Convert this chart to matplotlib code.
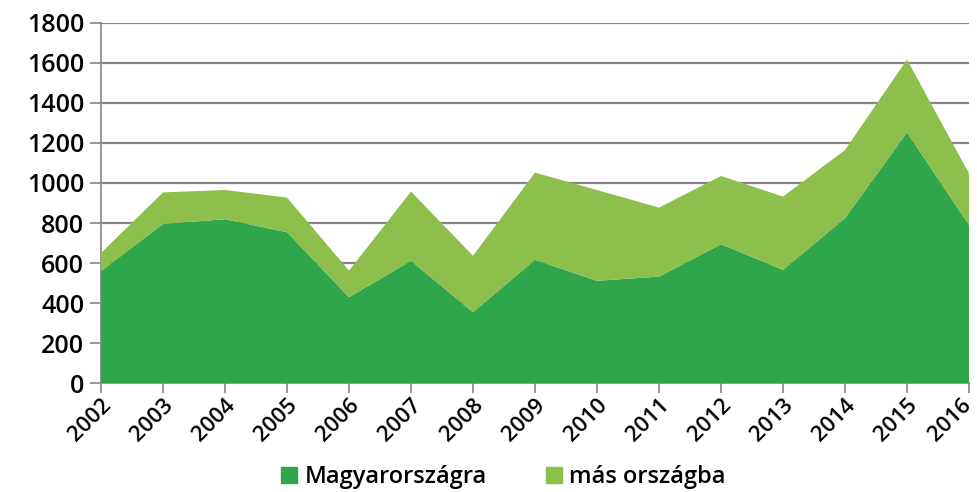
import matplotlib
matplotlib.use('Agg')

import matplotlib.pyplot as plt
import matplotlib.transforms as mtransforms
from matplotlib.patches import Patch

years = list(range(2002, 2017))
magyar = [560, 795, 819, 754, 429, 611, 354, 616, 511, 532, 694, 566, 824, 1253, 790]
total = [650, 953, 965, 927, 562, 957, 636, 1052, 965, 877, 1035, 932, 1165, 1617, 1048]
mas = [t - m for t, m in zip(total, magyar)]

labels = ["Magyarországra", "más országba"]
colors = ["#30a64c", "#8cbf4b"]

plt.rcParams['font.family'] = ['Open Sans', 'DejaVu Sans']

fig = plt.figure(figsize=(9.77, 4.92), dpi=100)
ax = fig.add_axes([0.1034, 0.2215, 0.8884, 0.7318])

ax.stackplot(years, magyar, mas, colors=colors, linewidth=0, zorder=3)

ax.set_xlim(2002, 2016)
ax.set_ylim(0, 1800)
ax.set_yticks(range(0, 1801, 200))
ax.set_xticks(years)
ax.set_xticklabels([])
for lab in ax.get_yticklabels():
    lab.set_fontsize(18)
    lab.set_fontweight('semibold')

# year labels drawn as text so the last one can stay inside the figure
base = ax.get_xaxis_transform()
for i, y in enumerate(years):
    dx = -8 if i == len(years) - 1 else 0
    off = mtransforms.ScaledTranslation(dx / 100, -12 / 100, fig.dpi_scale_trans)
    ax.text(y, 0, str(y), transform=base + off, rotation=45, ha='right',
            va='top', rotation_mode='anchor', fontsize=16,
            fontweight='semibold')

ax.grid(axis='y', color='#868686', linewidth=1.6, zorder=1)
for s in ['top', 'right']:
    ax.spines[s].set_visible(False)
ax.spines['left'].set_color('#868686')
ax.spines['left'].set_linewidth(1.2)
ax.spines['bottom'].set_color('#868686')
ax.spines['bottom'].set_linewidth(1.2)
ax.tick_params(axis='y', length=8, width=1.2, color='#868686', pad=4)
ax.tick_params(axis='x', length=7, width=1.2, color='#868686', pad=5)

handles = [Patch(color=c) for c in colors]
fig.legend(handles, labels, loc='center', bbox_to_anchor=(0.515, 0.03), ncol=2,
           frameon=False, prop={'size': 17, 'weight': 'semibold'},
           handlelength=0.7, handleheight=0.7, columnspacing=2.5,
           handletextpad=0.3)

fig.savefig('out.png', dpi=100)
